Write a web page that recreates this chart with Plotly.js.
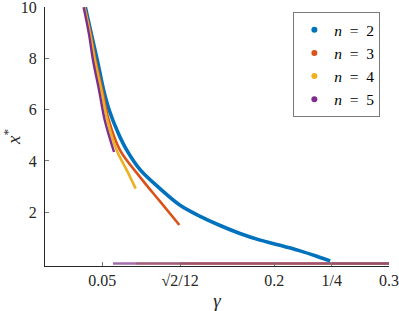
<!DOCTYPE html>
<html>
<head>
<meta charset="utf-8">
<script src="https://cdn.plot.ly/plotly-3.0.1.min.js"></script>
<style>html,body{margin:0;padding:0;background:#fff;}#chart{width:399px;height:311px;}</style>
</head>
<body>
<div id="chart"></div>
<script>
// Nontrivial branches (gamma, x*)
const gammaN2 = [0.0352, 0.0404, 0.0457, 0.0512, 0.0561, 0.0640, 0.0713, 0.0829, 0.1003, 0.1178, 0.1353, 0.1527, 0.1700, 0.1876, 0.2050, 0.2225, 0.2370, 0.2487];
const xN2     = [10, 8.96, 7.92, 6.75, 5.97, 5.07, 4.42, 3.66, 2.92, 2.27, 1.84, 1.48, 1.17, 0.91, 0.71, 0.49, 0.28, 0.10];
const gammaN3 = [0.0345, 0.0398, 0.0442, 0.0500, 0.0556, 0.0654, 0.0829, 0.1003, 0.1172];
const xN3     = [10, 8.96, 7.92, 6.75, 5.59, 4.42, 3.37, 2.42, 1.50];
const gammaN4 = [0.0343, 0.0393, 0.0435, 0.0492, 0.0544, 0.0625, 0.0713, 0.0791];
const xN4     = [10, 8.96, 7.92, 6.75, 5.59, 4.42, 3.64, 2.92];
const gammaN5 = [0.0337, 0.0383, 0.0419, 0.0472, 0.0521, 0.0602];
const xN5     = [10, 8.96, 7.92, 6.75, 5.59, 4.35];
// Trivial (zero) branches
const zeroGammaN2 = [0.25, 0.3];
const zeroGammaN3 = [0.1178, 0.3];
const zeroGammaN4 = [0.0791, 0.3];
const zeroGammaN5 = [0.0593, 0.3];
const zeroX = [0, 0];

const names = ['<i>n</i>\u00A0\u00A0=\u00A0\u00A02', '<i>n</i>\u00A0\u00A0=\u00A0\u00A03', '<i>n</i>\u00A0\u00A0=\u00A0\u00A04', '<i>n</i>\u00A0\u00A0=\u00A0\u00A05'];
const colors = ['#0072BD', '#D95319', '#EDB120', '#7E2F8E'];
const widths = [3.6, 2.6, 2.6, 2.4];

const xTickVals = [0.05, Math.sqrt(2)/12, 0.2, 0.25, 0.3];
const xTickText = ['0.05', '\u221A2/12', '0.2', '1/4', '0.3'];
const yTickVals = [2, 4, 6, 8, 10];
const yTickText = ['2', '4', '6', '8', '10'];

const branches = [[gammaN2, xN2], [gammaN3, xN3], [gammaN4, xN4], [gammaN5, xN5]];
const zeros = [zeroGammaN2, zeroGammaN3, zeroGammaN4, zeroGammaN5];

const traces = [];
zeros.forEach((g, i) => traces.push({
  x: g, y: zeroX, mode: 'lines', showlegend: false, hoverinfo: 'skip',
  line: {color: colors[i], width: 2.6}, opacity: 0.7
}));
branches.forEach((b, i) => traces.push({
  x: b[0], y: b[1], mode: 'lines', showlegend: false, hoverinfo: 'skip',
  line: {color: colors[i], width: widths[i], shape: 'spline', smoothing: 1.0}
}));
names.forEach((n, i) => traces.push({
  x: [null], y: [null], mode: 'markers', name: n,
  marker: {color: colors[i], size: 6}
}));

const SERIF = 'Liberation Serif';
const axisFont = {family: SERIF, size: 16, color: '#262626'};
const layout = {
  width: 399, height: 311,
  margin: {l: 45, r: 10, t: 7, b: 45},
  paper_bgcolor: '#fff', plot_bgcolor: '#fff',
  showlegend: true,
  legend: {
    x: 0.722, y: 0.98, xanchor: 'left', yanchor: 'top',
    bordercolor: '#7a7a7a', borderwidth: 1, bgcolor: '#fff',
    font: {family: SERIF, size: 15.5, color: '#000'},
    itemwidth: 30
  },
  xaxis: {
    range: [0, 0.3], showgrid: false, zeroline: false,
    showline: true, linecolor: '#262626', linewidth: 1,
    ticks: 'inside', ticklen: 4, tickcolor: '#777',
    tickvals: xTickVals, ticktext: xTickText, tickfont: axisFont,
    ticklabeloverflow: 'allow',
    title: {text: '<i>\u03B3</i>', font: {family: SERIF, size: 19, color: '#262626'}, standoff: 11}
  },
  yaxis: {
    range: [-0.1, 10.01], showgrid: false, zeroline: false,
    showline: true, linecolor: '#262626', linewidth: 1,
    ticks: 'inside', ticklen: 4, tickcolor: '#777',
    tickvals: yTickVals, ticktext: yTickText, tickfont: axisFont,
    ticklabelstandoff: 4, ticklabeloverflow: 'allow',
    title: {text: '<i>x</i><sup>*</sup>', font: {family: SERIF, size: 19, color: '#262626'}, standoff: 8}
  }
};
Plotly.newPlot('chart', traces, layout, {displayModeBar: false, staticPlot: true});
</script>
</body>
</html>
